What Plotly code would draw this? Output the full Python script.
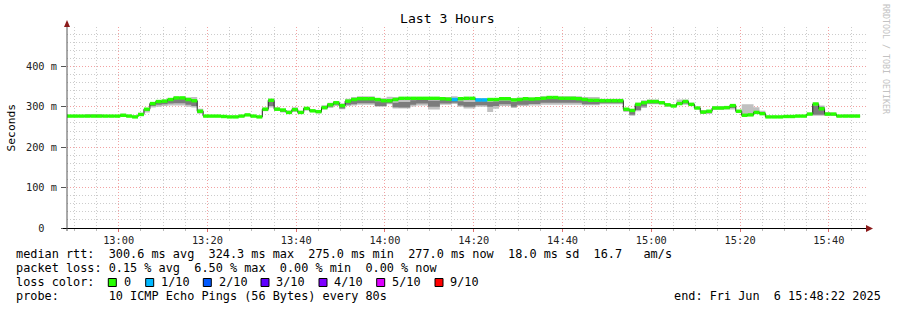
import numpy as np
import pandas as pd
import plotly.graph_objects as go

# ---------------- data ----------------
START = "2025-06-06 12:48:22"
END = "2025-06-06 15:48:22"
STEP_S = 80

median_ms = [277, 277, 277, 277, 277, 277, 277, 277, 277, 279,
             277, 275, 281, 294, 308, 313, 314, 318, 322, 322,
             318, 315, 289, 277, 277, 277, 276, 275, 275, 277,
             280, 277, 275, 294, 316, 294, 292, 286, 293, 286,
             296, 290, 288, 298, 305, 310, 303, 314, 318, 320,
             320, 320, 318, 315, 315, 318, 321, 321, 321, 321,
             321, 321, 321, 320, 319, 318, 320, 321, 321, 317,
             317, 318, 318, 320, 320, 317, 318, 320, 319, 320,
             321, 323, 323, 321, 321, 321, 320, 318, 316, 316,
             315, 315, 315, 315, 294, 291, 306, 310, 313, 313,
             310, 305, 302, 308, 313, 306, 297, 287, 289, 297,
             297, 298, 303, 289, 279, 280, 286, 283, 275, 275,
             275, 276, 276, 277, 277, 282, 307, 295, 282, 282,
             277, 277, 277, 277]

smoke_lo = [275, 275, 275, 275, 275, 275, 275, 275, 275, 276,
            275, 273, 277, 286, 298, 300, 302, 303, 303, 303,
            300, 298, 283, 275, 275, 275, 274, 273, 273, 275,
            277, 275, 273, 289, 298, 290, 286, 283, 287, 283,
            291, 287, 284, 293, 297, 302, 294, 302, 303, 305,
            305, 305, 300, 300, 306, 296, 296, 296, 301, 303,
            303, 293, 293, 305, 305, 307, 300, 296, 296, 300,
            300, 287, 295, 302, 302, 297, 302, 302, 303, 303,
            305, 305, 305, 305, 305, 305, 305, 304, 304, 304,
            306, 306, 306, 306, 287, 278, 289, 297, 306, 306,
            306, 300, 300, 305, 305, 303, 294, 282, 282, 293,
            293, 293, 293, 286, 277, 277, 283, 281, 273, 273,
            273, 274, 274, 275, 275, 279, 278, 278, 278, 278,
            276, 276, 276, 276]

smoke_hi = [279, 279, 279, 282, 282, 282, 279, 279, 279, 283,
            280, 278, 285, 297, 310, 316, 318, 322, 325, 325,
            323, 324, 295, 279, 279, 279, 278, 277, 277, 279,
            282, 279, 277, 298, 320, 299, 295, 291, 299, 290,
            298, 293, 291, 304, 310, 314, 308, 320, 324, 326,
            326, 326, 322, 322, 325, 324, 324, 324, 324, 324,
            324, 323, 323, 324, 324, 326, 322, 323, 323, 322,
            322, 320, 321, 323, 323, 322, 323, 323, 323, 323,
            326, 326, 326, 326, 326, 326, 326, 324, 324, 324,
            320, 320, 320, 320, 297, 293, 310, 316, 318, 318,
            314, 307, 307, 318, 318, 310, 300, 292, 292, 302,
            302, 302, 307, 292, 306, 306, 299, 290, 277, 277,
            277, 278, 278, 279, 279, 285, 310, 303, 287, 285,
            279, 281, 281, 281]

core_lo = [276, 276, 276, 276, 276, 276, 276, 276, 276, 277,
           276, 274, 279, 290, 302, 305, 306, 308, 309, 309,
           305, 302, 285, 276, 276, 276, 275, 274, 274, 276,
           278, 276, 274, 291, 302, 292, 288, 284, 290, 284,
           293, 288, 285, 295, 300, 305, 296, 305, 306, 309,
           309, 309, 302, 302, 309, 299, 298, 298, 305, 308,
           308, 300, 300, 308, 308, 310, 303, 300, 300, 304,
           304, 300, 302, 306, 306, 300, 305, 305, 307, 307,
           310, 310, 310, 310, 310, 310, 310, 306, 306, 306,
           309, 309, 309, 309, 290, 280, 292, 301, 308, 308,
           308, 302, 301, 306, 308, 304, 295, 284, 285, 294,
           294, 295, 297, 287, 278, 278, 284, 282, 274, 274,
           274, 275, 275, 276, 276, 280, 280, 280, 279, 279,
           276, 276, 276, 276]

core_hi = [278, 278, 278, 279, 279, 279, 278, 278, 278, 281,
           278, 276, 283, 295, 309, 314, 315, 319, 321, 321,
           319, 316, 292, 278, 278, 278, 277, 276, 276, 278,
           281, 278, 276, 296, 314, 296, 293, 288, 295, 288,
           297, 291, 289, 300, 307, 311, 305, 315, 318, 320,
           320, 320, 314, 312, 317, 310, 312, 312, 316, 318,
           318, 315, 315, 318, 317, 318, 314, 312, 312, 314,
           314, 312, 313, 315, 315, 312, 316, 316, 317, 317,
           320, 321, 321, 320, 320, 320, 319, 316, 316, 316,
           316, 316, 316, 316, 295, 290, 305, 311, 314, 314,
           311, 306, 303, 310, 314, 307, 298, 289, 290, 298,
           298, 299, 304, 290, 281, 282, 288, 285, 276, 276,
           276, 277, 277, 278, 278, 283, 303, 300, 284, 283,
           278, 278, 278, 278]

# loss per sample, in tenths (10 pings)
loss_tenths = [0] * 134
for _i in (65, 69, 70):
    loss_tenths[_i] = 1

loss_levels = [0, 1, 2, 3, 4, 5, 9]
loss_labels = ["0", "1/10", "2/10", "3/10", "4/10", "5/10", "9/10"]
loss_colors = ["#26ff00", "#00b8ff", "#0059ff", "#5e00ff", "#7e00ff", "#dd00ff", "#ff0000"]

y_tick_vals = [0, 100, 200, 300, 400]
y_tick_text = ["0\u00a0\u00a0", "100 m", "200 m", "300 m", "400 m"]

stats_rtt = "median rtt:  300.6 ms avg  324.3 ms max  275.0 ms min  277.0 ms now  18.0 ms sd  16.7   am/s"
stats_loss = "packet loss: 0.15 % avg  6.50 % max  0.00 % min  0.00 % now"
probe_text = "probe:       10 ICMP Echo Pings (56 Bytes) every 80s"
end_text = "end: Fri Jun  6 15:48:22 2025"
title_text = "Last 3 Hours"

# ---------------- geometry / style ----------------
W, H = 897, 310
ML, MR, MT, MB = 67, 31, 27, 82
PW, PH = W - ML - MR, H - MT - MB
Y_TOP = 497.5
MONO = "DejaVu Sans Mono"


def px(x):
    return (x - ML) / PW


def py(y):
    return (H - MB - y) / PH


def nb(s):
    return s.replace(" ", "\u00a0")


n = len(median_ms)
t0 = pd.Timestamp(START)
times = [(t0 + pd.Timedelta(seconds=STEP_S * k)).strftime("%Y-%m-%d %H:%M:%S") for k in range(n + 1)]


def ext(a):
    return list(a) + [a[-1]]


fig = go.Figure()


def band(lo, hi, color):
    fig.add_trace(go.Scatter(x=times, y=ext(lo), mode="lines", line=dict(width=0, shape="hv"),
                             hoverinfo="skip", showlegend=False))
    fig.add_trace(go.Scatter(x=times, y=ext(hi), mode="lines", line=dict(width=0, shape="hv"),
                             fill="tonexty", fillcolor=color, hoverinfo="skip", showlegend=False))


band(smoke_lo, smoke_hi, "#c0c0c0")
band(core_lo, core_hi, "#7c7c7c")

# black median step line
fig.add_trace(go.Scatter(x=times, y=ext(median_ms), mode="lines",
                         line=dict(color="#202020", width=1, shape="hv"),
                         hoverinfo="skip", showlegend=False))

# loss-coloured median segments
for lvl, col in zip(loss_levels, loss_colors):
    xs, ys = [], []
    for k in range(n):
        if loss_tenths[k] == lvl:
            xs += [times[k], times[k + 1], None]
            ys += [median_ms[k], median_ms[k], None]
    if xs:
        fig.add_trace(go.Scatter(x=xs, y=ys, mode="lines", line=dict(color=col, width=3.4),
                                 hoverinfo="skip", showlegend=False))

MAJOR = "#f2a2a2"
MINOR = "#cccccc"
DASH = "1px,2px"

fig.update_layout(
    width=W, height=H, autosize=False,
    margin=dict(l=ML, r=MR, t=MT, b=MB, pad=0),
    paper_bgcolor="white", plot_bgcolor="white",
    showlegend=False,
    font=dict(family=MONO, color="#000"),
    xaxis=dict(type="date", range=[START, END], tickformat="%H:%M",
               tick0="2025-06-06 13:00:00", dtick=20 * 60 * 1000,
               showgrid=True, gridcolor=MAJOR, griddash=DASH, gridwidth=1,
               ticks="outside", ticklen=3, tickcolor="#e07070", tickwidth=1,
               minor=dict(dtick=5 * 60 * 1000, showgrid=True, gridcolor=MINOR, griddash=DASH,
                          ticks="outside", ticklen=2, tickcolor="#bbbbbb"),
               showline=False, zeroline=False, fixedrange=True,
               tickfont=dict(family=MONO, size=10.3, color="#222")),
    yaxis=dict(range=[0, Y_TOP], tickmode="array", tickvals=y_tick_vals, ticktext=y_tick_text,
               showgrid=True, gridcolor=MAJOR, griddash=DASH, gridwidth=1,
               ticks="outside", ticklen=5, tickcolor="#555", tickwidth=1, ticklabelstandoff=2,
               minor=dict(dtick=20, showgrid=True, gridcolor=MINOR, griddash=DASH),
               showline=False, zeroline=False, fixedrange=True,
               tickfont=dict(family=MONO, size=10.3, color="#222")),
)

shapes = []
# axes with arrows
shapes.append(dict(type="line", xref="paper", yref="paper", x0=px(63), x1=px(868), y0=py(228.5), y1=py(228.5),
                   line=dict(color="#000", width=1), layer="above"))
shapes.append(dict(type="line", xref="paper", yref="paper", x0=px(67), x1=px(67), y0=py(231), y1=py(25),
                   line=dict(color="#555", width=1), layer="above"))
shapes.append(dict(type="path", xref="paper", yref="paper",
                   path=f"M {px(64)} {py(27)} L {px(70)} {py(27)} L {px(67)} {py(20)} Z",
                   fillcolor="#8b1a1a", line=dict(width=0), layer="above"))
shapes.append(dict(type="path", xref="paper", yref="paper",
                   path=f"M {px(866)} {py(225)} L {px(866)} {py(232)} L {px(873)} {py(228.5)} Z",
                   fillcolor="#8b1a1a", line=dict(width=0), layer="above"))

annotations = []


def text(x, y, s, size=11.85, anchor="left", color="#000", angle=0):
    annotations.append(dict(xref="paper", yref="paper", x=px(x), y=py(y), text=nb(s), showarrow=False,
                            xanchor=anchor, yanchor="middle", textangle=angle,
                            font=dict(family=MONO, size=size, color=color), borderpad=0, borderwidth=0))


text(447.5, 19, title_text, size=13.1, anchor="center")
text(11, 127.5, "Seconds", size=11.3, anchor="center", angle=-90)
text(886, 59, "RRDTOOL / TOBI OETIKER", size=8.3, anchor="center", color="#c2c2c2", angle=90)
text(16, 254.3, stats_rtt)
text(16, 268.3, stats_loss)
text(16, 282.3, "loss color:")
text(16, 296, probe_text)
text(881, 296, end_text, anchor="right")

sq_left = [108.3, 145.7, 203.3, 261.0, 319.0, 376.7, 435.0]
for xl, lab, col in zip(sq_left, loss_labels, loss_colors):
    shapes.append(dict(type="rect", xref="paper", yref="paper", x0=px(xl), x1=px(xl + 8),
                       y0=py(286.5), y1=py(278.5), fillcolor=col, line=dict(color="#000", width=1)))
    text(xl + 15.3, 282.3, lab)

fig.update_layout(shapes=shapes, annotations=annotations)
fig.write_html("out.html")
